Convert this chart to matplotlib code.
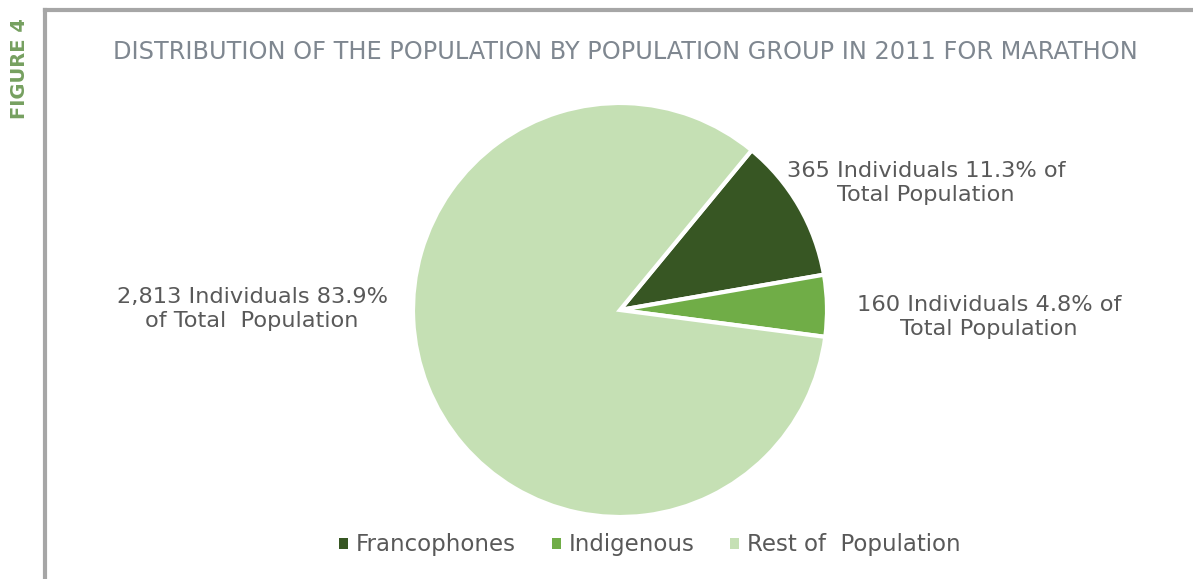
import matplotlib
matplotlib.use("Agg")
import matplotlib.pyplot as plt
from matplotlib.lines import Line2D
from matplotlib.patches import Patch

categories = ["Francophones", "Indigenous", "Rest of  Population"]
individuals = [365, 160, 2813]
percents = [11.3, 4.8, 83.9]
colors = ["#375623", "#70ad47", "#c5e0b4"]
title = "DISTRIBUTION OF THE POPULATION BY POPULATION GROUP IN 2011 FOR MARATHON"

W, H = 1193, 579
fig = plt.figure(figsize=(W / 100, H / 100), dpi=100)
plt.rcParams['font.family'] = ['DejaVu Sans']

# frame lines
fig.add_artist(Line2D([45 / W, 45 / W], [0, 1 - 10 / H], color="#a6a6a6", lw=3, transform=fig.transFigure))
fig.add_artist(Line2D([45 / W, 1], [1 - 10 / H, 1 - 10 / H], color="#a6a6a6", lw=3, transform=fig.transFigure))

fig.text(20 / W, 1 - 69 / H, "FIGURE 4", rotation=90, ha="center", va="center",
         color="#76a060", fontsize=14, fontweight="bold")
fig.text(625 / W, 1 - 52 / H, title, ha="center", va="center", color="#7f8790", fontsize=17.3)

cx, cy, r = 620, 310, 207
ax = fig.add_axes([(cx - r) / W, 1 - (cy + r) / H, 2 * r / W, 2 * r / H])
ax.pie(percents, colors=colors, startangle=50.5, counterclock=False,
       wedgeprops=dict(edgecolor="white", linewidth=3))
ax.set_aspect("auto")
ax.set_xlim(-1, 1)
ax.set_ylim(-1, 1)

lab_color = "#595959"
labels = [
    f"{individuals[0]} Individuals {percents[0]}% of\nTotal Population",
    f"{individuals[1]} Individuals {percents[1]}% of\nTotal Population",
    f"{individuals[2]:,} Individuals {percents[2]}%\nof Total  Population",
]
pos = [(926, 183), (989, 317), (252, 309)]
for t, (x, y) in zip(labels, pos):
    fig.text(x / W, 1 - y / H, t, ha="center", va="center", color=lab_color,
             fontsize=16.2, linespacing=1.2)

handles = [Patch(facecolor=c, edgecolor="none") for c in colors]
leg = fig.legend(handles, categories, loc="center", bbox_to_anchor=(650 / W, 1 - 545 / H),
                 ncol=3, frameon=False, fontsize=16.5, handlelength=0.4, handleheight=0.4,
                 handletextpad=0.35, columnspacing=1.55, labelcolor=lab_color)

fig.savefig("out.png", dpi=100)
